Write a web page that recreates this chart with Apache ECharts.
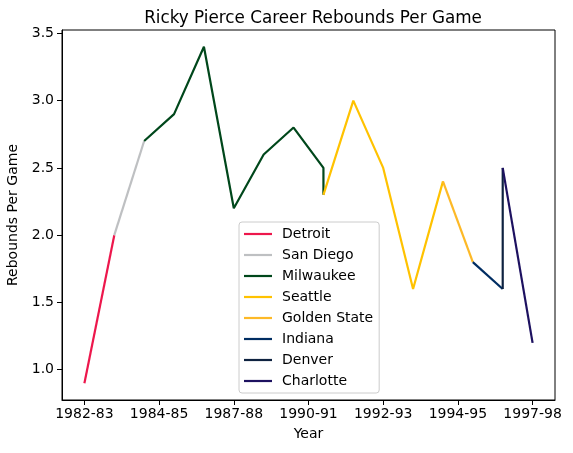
<!DOCTYPE html>
<html>
<head>
<meta charset="utf-8">
<script src="https://cdn.jsdelivr.net/npm/echarts@6/dist/echarts.min.js"></script>
<style>
  html, body { margin: 0; padding: 0; background: #fff; }
  #main { width: 573px; height: 453px; }
</style>
</head>
<body>
<div id="main"></div>
<script>
    // seasons, one per x position
    var seasons = ['1982-83', '1983-84', '1984-85', '1985-86', '1986-87', '1987-88', '1988-89', '1989-90',
        '1990-91', '1991-92', '1992-93', '1993-94', '1994-95', '1995-96', '1996-97', '1997-98'];

    // tick marks on the x axis and the text printed under them
    var xTickPos = [0, 2.5, 5, 7.5, 10, 12.5, 15];
    var xTickLabels = ['1982-83', '1984-85', '1987-88', '1990-91', '1992-93', '1994-95', '1997-98'];
    var yTicks = [1.0, 1.5, 2.0, 2.5, 3.0, 3.5];

    var teams = ['Detroit', 'San Diego', 'Milwaukee', 'Seattle', 'Golden State', 'Indiana', 'Denver', 'Charlotte'];

    // season index / rebounds per game, per team
    var detroitIdx = [0, 1],                      detroitRpg = [0.9, 2.0];
    var sanDiegoIdx = [1, 2],                     sanDiegoRpg = [2.0, 2.7];
    var milwaukeeIdx = [2, 3, 4, 5, 6, 7, 8, 8],  milwaukeeRpg = [2.7, 2.9, 3.4, 2.2, 2.6, 2.8, 2.5, 2.3];
    var seattleIdx = [8, 9, 10, 11, 12],          seattleRpg = [2.3, 3.0, 2.5, 1.6, 2.4];
    var goldenStateIdx = [12, 13],                goldenStateRpg = [2.4, 1.8];
    var indianaIdx = [13, 14],                    indianaRpg = [1.8, 1.6];
    var denverIdx = [14, 14],                     denverRpg = [1.6, 2.5];
    var charlotteIdx = [14, 15],                  charlotteRpg = [2.5, 1.2];

    var teamIdx = [detroitIdx, sanDiegoIdx, milwaukeeIdx, seattleIdx, goldenStateIdx, indianaIdx, denverIdx, charlotteIdx];
    var teamRpg = [detroitRpg, sanDiegoRpg, milwaukeeRpg, seattleRpg, goldenStateRpg, indianaRpg, denverRpg, charlotteRpg];

    var colors = ['#ED174C', '#BEC0C2', '#00471B', '#FFC200', '#FDB927', '#002D62', '#0E2240', '#1D1160'];

    var font = 'DejaVu Sans';

    var series = teams.map(function (name, i) {
        return {
            name: name,
            type: 'line',
            symbol: 'none',
            color: colors[i],
            lineStyle: { width: 2.2, color: colors[i] },
            animation: false,
            data: teamIdx[i].map(function (x, j) { return [x, teamRpg[i][j]]; })
        };
    });

    var chart = echarts.init(document.getElementById('main'));
    chart.setOption({
        backgroundColor: '#fff',
        title: {
            text: 'Ricky Pierce Career Rebounds Per Game',
            left: 308,
            top: 5,
            textAlign: 'center',
            textStyle: { fontFamily: font, fontSize: 16.8, fontWeight: 'normal', color: '#000' }
        },
        grid: {
            left: 62, right: 18, top: 30, bottom: 53,
            outerBoundsMode: 'none',
            show: true, borderColor: '#000', borderWidth: 1, containLabel: false
        },
        legend: {
            orient: 'vertical',
            left: 239,
            top: 222,
            padding: [5, 6, 5, 5],
            itemWidth: 28,
            itemHeight: 14,
            itemGap: 7,
            icon: 'path://M0,0 H28 V2.2 H0 Z',
            backgroundColor: 'rgba(255,255,255,0.8)',
            borderColor: '#cccccc',
            borderWidth: 1,
            borderRadius: 3,
            data: teams,
            textStyle: { fontFamily: font, fontSize: 14, color: '#000', padding: [0, 0, 0, 5] }
        },
        xAxis: {
            type: 'value',
            min: -0.75,
            max: 15.75,
            name: 'Year',
            nameLocation: 'middle',
            nameGap: 27,
            nameTextStyle: { fontFamily: font, fontSize: 14, color: '#000' },
            axisLine: { show: true, onZero: false, lineStyle: { color: '#000', width: 1 } },
            axisTick: { show: true, length: 5, customValues: xTickPos, lineStyle: { color: '#000' } },
            axisLabel: {
                customValues: xTickPos,
                margin: 7,
                fontFamily: font, fontSize: 14, color: '#000',
                formatter: function (v) {
                    var k = xTickPos.indexOf(v);
                    return k >= 0 ? xTickLabels[k] : '';
                }
            },
            splitLine: { show: false }
        },
        yAxis: {
            type: 'value',
            min: 0.775,
            max: 3.525,
            name: 'Rebounds Per Game',
            nameLocation: 'middle',
            nameGap: 37,
            nameTextStyle: { fontFamily: font, fontSize: 14, color: '#000' },
            axisLine: { show: true, onZero: false, lineStyle: { color: '#000', width: 1 } },
            axisTick: { show: true, length: 5, customValues: yTicks, lineStyle: { color: '#000' } },
            axisLabel: {
                customValues: yTicks,
                margin: 8,
                fontFamily: font, fontSize: 14, color: '#000',
                formatter: function (v) { return v.toFixed(1); }
            },
            splitLine: { show: false }
        },
        series: series
    });
</script>
</body>
</html>
